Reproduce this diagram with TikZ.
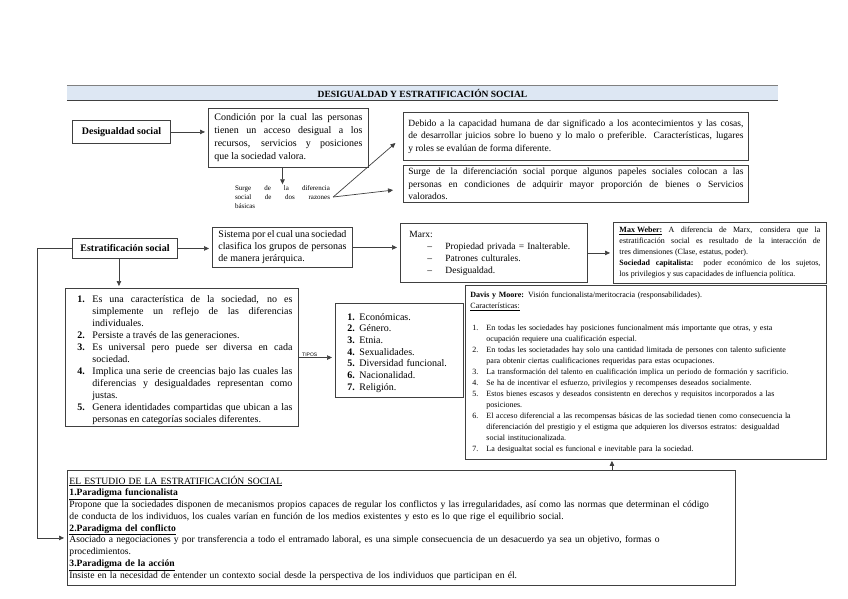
\documentclass[tikz,border=0pt]{standalone}
\usepackage{fontspec}
\setmainfont{Liberation Serif}
\setsansfont{Liberation Sans}
\usepackage{xcolor}
\usepackage{tikz}
\usetikzlibrary{arrows.meta, positioning, calc}
\definecolor{titleblue}{RGB}{221,231,243}
\definecolor{boxgray}{RGB}{64,64,64}
\newcommand{\numitem}[3]{\par\hangindent=#1\hangafter=1\noindent\makebox[#1][l]{#2}#3\par}

\begin{document}
\begin{tikzpicture}[x=1pt, y=-1pt,
  box/.style={draw=boxgray, line width=0.9pt, anchor=north west, inner xsep=6pt, inner ysep=2pt},
  body/.style={font=\fontsize{10}{13}\selectfont, align=justify},
  arr/.style={-{Triangle[length=5pt,width=4.5pt]}, line width=0.7pt, draw=boxgray, shorten >=3pt},
]
  \useasboundingbox (0,0) rectangle (848,599);

  % Title bar
  \node[fill=titleblue, minimum width=711pt, minimum height=14pt, inner sep=0pt,
        font=\bfseries\fontsize{9.5}{11}\selectfont] (title) at (422.5,93)
    {DESIGUALDAD Y ESTRATIFICACIÓN SOCIAL};
  \draw[gray, line width=0.6pt] (title.north west) -- (title.north east);
  \draw[boxgray, line width=1.3pt] (title.south west) -- (title.south east);

  % Desigualdad social
  \node[box, minimum width=98pt, minimum height=23pt, font=\bfseries\fontsize{10}{12}\selectfont]
    (desig) at (72,120) {Desigualdad social};
  \node[box, text width=148pt, minimum height=59pt, body] (cond) at (208,108)
    {Condición por la cual las personas\linebreak tienen un acceso desigual a los\linebreak
     recursos, servicios y posiciones\linebreak que la sociedad valora.};
  \node[font=\fontsize{7}{9}\selectfont, text width=95pt, align=justify, inner sep=0pt]
    (razones) at (282.5,197) {Surge de la diferencia\linebreak social de dos razones\linebreak básicas};
  \node[box, text width=335pt, inner xsep=5pt, minimum height=48pt, body,
        font=\fontsize{9.5}{12.5}\selectfont] (debido) at (403,112)
    {Debido a la capacidad humana de dar significado a los acontecimientos y las cosas,\linebreak
     de desarrollar juicios sobre lo bueno y lo malo o preferible. Características, lugares\linebreak
     y roles se evalúan de forma diferente.};
  \node[box, text width=335pt, inner xsep=5pt, minimum height=37pt, body,
        font=\fontsize{9.5}{12.5}\selectfont] (surge) at (403,165)
    {Surge de la diferenciación social porque algunos papeles sociales colocan a las\linebreak
     personas en condiciones de adquirir mayor proporción de bienes o Servicios\linebreak
     valorados.};

  \draw[arr] (desig.east) -- (desig.east -| cond.west);
  \draw[arr, shorten >=1pt] (cond.south -| razones.north) -- (razones.north);
  \draw[arr, shorten >=10pt] ([xshift=3pt]razones.east) -- (debido.west);
  \draw[arr, shorten >=10pt] ([xshift=3pt]razones.east) -- ([yshift=-5pt]surge.west);

  % Estratificacion social
  \node[box, minimum width=105pt, minimum height=20pt, font=\bfseries\fontsize{10}{12}\selectfont]
    (estrat) at (72,238) {Estratificación social};
  \node[box, text width=128pt, minimum height=40pt, body, font=\fontsize{10}{12}\selectfont]
    (sistema) at (212,227)
    {Sistema por el cual una sociedad\linebreak clasifica los grupos de personas\linebreak
     de manera jerárquica.};
  \node[box, text width=169pt, inner xsep=9pt, minimum height=59pt, align=left,
        font=\fontsize{9.5}{12}\selectfont] (marx) at (400,223)
    {Marx:\\
     \hspace*{18pt}\makebox[18pt][l]{--}Propiedad privada = Inalterable.\\
     \hspace*{18pt}\makebox[18pt][l]{--}Patrones culturales.\\
     \hspace*{18pt}\makebox[18pt][l]{--}Desigualdad.};
  \node[box, text width=201pt, minimum height=61pt, align=justify, font=\fontsize{8}{11}\selectfont]
    (weber) at (613,222)
    {\underline{\textbf{Max Weber:}} A diferencia de Marx, considera que la\linebreak
     estratificación social es resultado de la interacción de\linebreak
     tres dimensiones (Clase, estatus, poder).\par
     \textbf{Sociedad capitalista:} poder económico de los sujetos,\linebreak
     los privilegios y sus capacidades de influencia política.};

  \draw[arr] (estrat.east) -- (estrat.east -| sistema.west);
  \draw[arr] (sistema.east) -- (sistema.east -| marx.west);
  \draw[arr] (marx.east) -- (marx.east -| weber.west);

  % Rasgos y tipos
  \node[box, text width=221pt, minimum height=137pt, align=justify, font=\fontsize{10}{12}\selectfont]
    (rasgos) at (65,288)
    {\numitem{21pt}{\hspace{6pt}\textbf{1.}}{Es una característica de la sociedad, no es\linebreak
       simplemente un reflejo de las diferencias\linebreak individuales.}
     \numitem{21pt}{\hspace{6pt}\textbf{2.}}{Persiste a través de las generaciones.}
     \numitem{21pt}{\hspace{6pt}\textbf{3.}}{Es universal pero puede ser diversa en cada\linebreak sociedad.}
     \numitem{21pt}{\hspace{6pt}\textbf{4.}}{Implica una serie de creencias bajo las cuales las\linebreak
       diferencias y desigualdades representan como\linebreak justas.}
     \numitem{21pt}{\hspace{6pt}\textbf{5.}}{Genera identidades compartidas que ubican a las\linebreak
       personas en categorías sociales diferentes.}};
  \node[box, text width=116pt, minimum height=94pt, align=left, font=\fontsize{10}{11.7}\selectfont]
    (tipos) at (335,303)
    {\numitem{18pt}{\hspace{6pt}\textbf{1.}}{Económicas.}
     \numitem{18pt}{\hspace{6pt}\textbf{2.}}{Género.}
     \numitem{18pt}{\hspace{6pt}\textbf{3.}}{Etnia.}
     \numitem{18pt}{\hspace{6pt}\textbf{4.}}{Sexualidades.}
     \numitem{18pt}{\hspace{6pt}\textbf{5.}}{Diversidad funcional.}
     \numitem{18pt}{\hspace{6pt}\textbf{6.}}{Nacionalidad.}
     \numitem{18pt}{\hspace{6pt}\textbf{7.}}{Religión.}};

  \draw[arr, shorten >=2pt] ([xshift=-6pt]estrat.south) -- ([xshift=-6pt]estrat.south |- rasgos.north);
  \draw[arr] (rasgos.east) -- node[above, pos=0.3, inner sep=1pt, font=\sffamily\fontsize{5}{6}\selectfont]
    {TIPOS} (rasgos.east -| tipos.west);

  % Davis y Moore
  \node[box, text width=351pt, inner xsep=5pt, minimum height=174pt, align=left,
        font=\fontsize{8}{11}\selectfont] (davis) at (465,285)
    {\textbf{Davis y Moore:} Visión funcionalista/meritocracia (responsabilidades).\par
     \underline{Características:}\par\vspace{11pt}
     \numitem{16pt}{\hspace{2pt}1.}{En todas les sociedades hay posiciones funcionalment más importante que otras, y esta\newline
       ocupación requiere una cualificación especial.}
     \numitem{16pt}{\hspace{2pt}2.}{En todas les societadades hay solo una cantidad limitada de persones con talento suficiente\newline
       para obtenir ciertas cualificaciones requeridas para estas ocupaciones.}
     \numitem{16pt}{\hspace{2pt}3.}{La transformación del talento en cualificación implica un periodo de formación y sacrificio.}
     \numitem{16pt}{\hspace{2pt}4.}{Se ha de incentivar el esfuerzo, privilegios y recompenses deseados socialmente.}
     \numitem{16pt}{\hspace{2pt}5.}{Estos bienes escasos y deseados consistentn en derechos y requisitos incorporados a las\newline
       posiciones.}
     \numitem{16pt}{\hspace{2pt}6.}{El acceso diferencial a las recompensas básicas de las sociedad tienen como consecuencia la\newline
       diferenciación del prestigio y el estigma que adquieren los diversos estratos: desigualdad\newline
       social institucionalizada.}
     \numitem{16pt}{\hspace{2pt}7.}{La desigualtat social es funcional e inevitable para la sociedad.}};

  % Estudio de la estratificacion
  \node[box, text width=664pt, inner xsep=2pt, minimum height=115pt, align=left,
        font=\fontsize{9.6}{11.75}\selectfont] (estudio) at (67,470)
    {\underline{EL ESTUDIO DE LA ESTRATIFICACIÓN SOCIAL}\\
     \underline{\textbf{1.Paradigma funcionalista}}\\
     Propone que la sociedades disponen de mecanismos propios capaces de regular los conflictos y las irregularidades, así como las normas que determinan el código\\
     de conducta de los individuos, los cuales varían en función de los medios existentes y esto es lo que rige el equilibrio social.\\
     \underline{\textbf{2.Paradigma del conflicto}}\\
     Asociado a negociaciones y por transferencia a todo el entramado laboral, es una simple consecuencia de un desacuerdo ya sea un objetivo, formas o\\
     procedimientos.\\
     \underline{\textbf{3.Paradigma de la acción}}\\
     Insiste en la necesidad de entender un contexto social desde la perspectiva de los individuos que participan en él.};

  \draw[arr, shorten >=1pt] ([xshift=-34pt]davis.south |- estudio.north) -- ([xshift=-34pt]davis.south);
  \draw[arr] (estrat.west) -- ++(-35,0) |- ([yshift=-10pt]estudio.west);
\end{tikzpicture}
\end{document}
